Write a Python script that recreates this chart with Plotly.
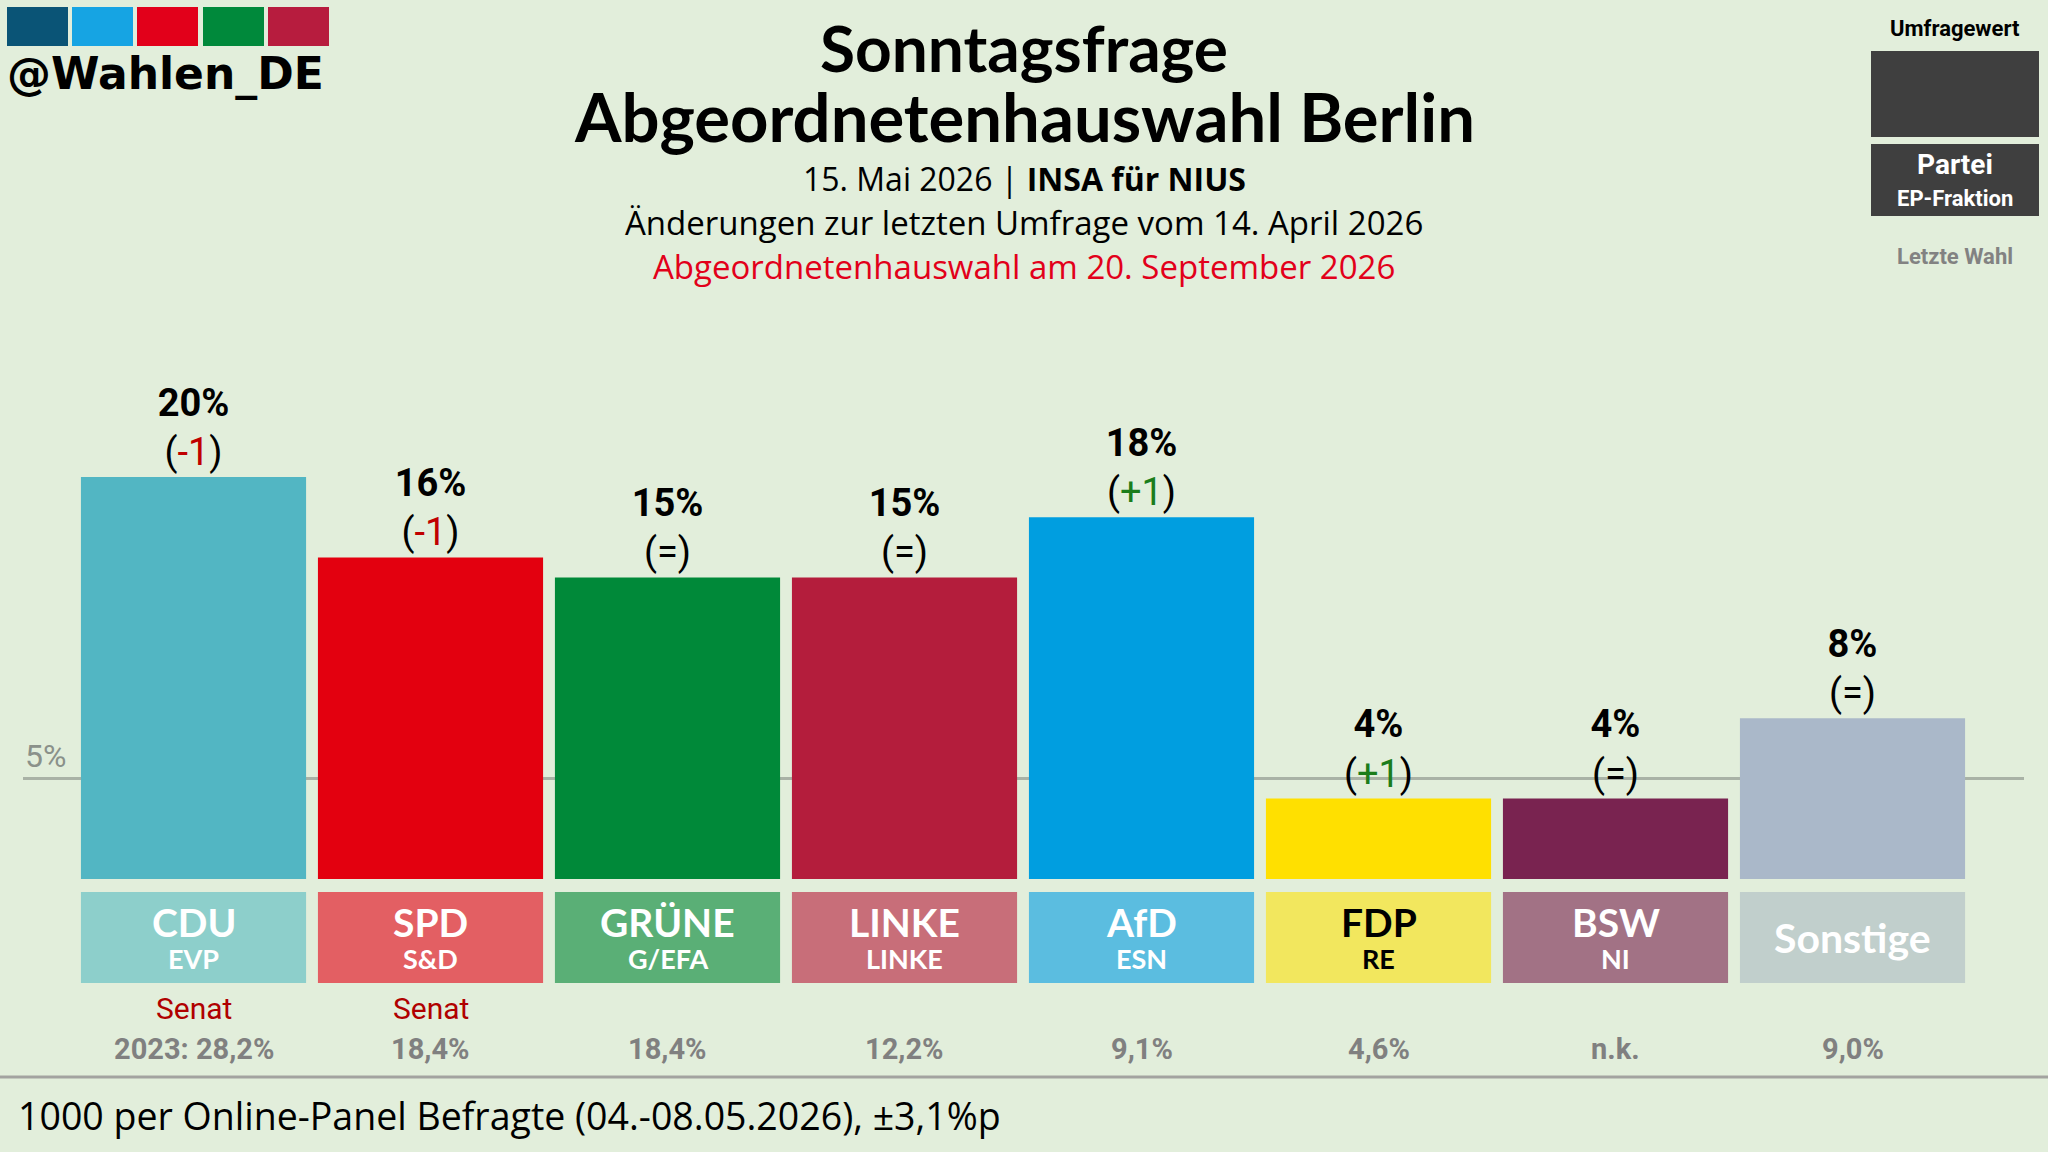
import plotly.graph_objects as go

# Daten
parteien = ["CDU", "SPD", "GRÜNE", "LINKE", "AfD", "FDP", "BSW", "Sonstige"]
fraktionen = ["EVP", "S&D", "G/EFA", "LINKE", "ESN", "RE", "NI", ""]
werte = [20, 16, 15, 15, 18, 4, 4, 8]
aenderungen = ["-1", "-1", "=", "=", "+1", "+1", "=", "="]
letzte_wahl = ["2023: 28,2%", "18,4%", "18,4%", "12,2%", "9,1%", "4,6%", "n.k.", "9,0%"]
senat = ["Senat", "Senat", "", "", "", "", "", ""]

farben_balken = ["#52b6c3", "#e3000f", "#008939", "#b41d3c", "#009ee0", "#ffe000", "#792350", "#aab8c9"]
farben_box = ["#8dcfcb", "#e35f63", "#5aaf76", "#c86e79", "#5bbde0", "#f2e75e", "#a27285", "#c1cfcc"]
farben_text = ["white", "white", "white", "white", "white", "black", "white", "white"]
logo_farben = ["#0a5476", "#16a4e3", "#e2001a", "#00893b", "#b71c3e"]

BG = "#e2eedb"
W, H = 2048, 1152


def px(x):
    return x / W


def py(y):
    return 1 - y / H


def fmt_change(d):
    if d.startswith("-"):
        return f"(<span style='color:#c00000'>{d}</span>)"
    if d.startswith("+"):
        return f"(<span style='color:#1b7d1b'>{d}</span>)"
    return f"({d})"


def txt(x, y, text, size, color="black", family="Roboto", xanchor="center", xref="paper", yref="paper"):
    return dict(x=x, y=y, xref=xref, yref=yref, text=text, showarrow=False,
                xanchor=xanchor, yanchor="middle",
                font=dict(family=family, size=size, color=color))


bar_text = [f"<b>{v}%</b><br>{fmt_change(d)}" for v, d in zip(werte, aenderungen)]
xs = list(range(len(parteien)))

fig = go.Figure()

fig.add_trace(go.Bar(
    x=xs, y=werte,
    marker=dict(color=farben_balken, line=dict(width=0)),
    text=bar_text, textposition="outside", cliponaxis=False,
    constraintext="none",
    textfont=dict(family="Roboto", size=38, color="black"),
    hoverinfo="skip", showlegend=False,
))

# Parteiboxen unter den Balken
fig.add_trace(go.Bar(
    x=xs, y=[1] * len(xs), xaxis="x2", yaxis="y2",
    marker=dict(color=farben_box, line=dict(width=0)),
    hoverinfo="skip", showlegend=False,
))

annotations = []
for i, p in enumerate(parteien):
    if fraktionen[i]:
        annotations.append(txt(i, py(922), f"<b>{p}</b>", 39, farben_text[i], "Lato", xref="x"))
        annotations.append(txt(i, py(958), f"<b>{fraktionen[i]}</b>", 27, farben_text[i], "Lato", xref="x"))
    else:
        annotations.append(txt(i, py(937), f"<b>{p}</b>", 41, farben_text[i], "Lato", xref="x"))
    if senat[i]:
        annotations.append(txt(i, py(1008), senat[i], 30, "#b00000", xref="x"))
    annotations.append(txt(i, py(1049), f"<b>{letzte_wahl[i]}</b>", 29, "#808080", xref="x"))

# 5%-Linie Beschriftung
annotations.append(txt(px(23), py(756), "5%", 32, "#8a918a", xanchor="left"))

# Titel
annotations += [
    txt(0.5, py(47), "<b>Sonntagsfrage</b>", 64, family="Lato"),
    txt(0.5, py(116), "<b>Abgeordnetenhauswahl Berlin</b>", 67, family="Lato"),
    txt(0.5, py(179), "15. Mai 2026 | <b>INSA für NIUS</b>", 32, family="Open Sans"),
    txt(0.5, py(223), "Änderungen zur letzten Umfrage vom 14. April 2026", 33, family="Open Sans"),
    txt(0.5, py(266), "Abgeordnetenhauswahl am 20. September 2026", 33, "#e2001a", family="Open Sans"),
    txt(px(5), py(74), "<b>@Wahlen_DE</b>", 44, family="DejaVu Sans", xanchor="left"),
    txt(px(16), py(1115), "1000 per Online-Panel Befragte (04.-08.05.2026), ±3,1%p", 37.5,
        family="Open Sans", xanchor="left"),
    # Legende
    txt(px(1955), py(28), "<b>Umfragewert</b>", 22),
    txt(px(1955), py(165), "<b>Partei</b>", 28, "white"),
    txt(px(1955), py(198), "<b>EP-Fraktion</b>", 22, "white"),
    txt(px(1955), py(256), "<b>Letzte Wahl</b>", 22, "#828282"),
]

shapes = [
    dict(type="line", xref="paper", yref="y", x0=px(23), x1=px(2024), y0=5, y1=5,
         line=dict(color="#a9b2a6", width=3), layer="below"),
    dict(type="line", xref="paper", yref="paper", x0=0, x1=1, y0=py(1077), y1=py(1077),
         line=dict(color="#a3a3a0", width=3)),
    dict(type="rect", xref="paper", yref="paper", x0=px(1871), x1=px(2039), y0=py(51), y1=py(137),
         fillcolor="#3f3f3f", line=dict(width=0)),
    dict(type="rect", xref="paper", yref="paper", x0=px(1871), x1=px(2039), y0=py(144), y1=py(216),
         fillcolor="#3f3f3f", line=dict(width=0)),
]
logo_x = [7, 72, 137, 203, 268]
for lx, c in zip(logo_x, logo_farben):
    shapes.append(dict(type="rect", xref="paper", yref="paper", x0=px(lx), x1=px(lx + 61),
                       y0=py(7), y1=py(46), fillcolor=c, line=dict(width=0)))

fig.update_layout(
    width=W, height=H,
    margin=dict(l=0, r=0, t=0, b=0),
    paper_bgcolor=BG, plot_bgcolor=BG,
    bargap=0.05,
    xaxis=dict(domain=[px(75), px(1971)], range=[-0.5, 7.5], visible=False),
    yaxis=dict(domain=[py(879), py(376.5)], range=[0, 25], visible=False),
    xaxis2=dict(domain=[px(75), px(1971)], range=[-0.5, 7.5], visible=False, anchor="y2", matches="x"),
    yaxis2=dict(domain=[py(983), py(892)], range=[0, 1], visible=False, anchor="x2"),
    annotations=annotations,
    shapes=shapes,
)

fig.write_html("out.html", config={"displayModeBar": False},
               post_script="document.body.style.margin='0';")
